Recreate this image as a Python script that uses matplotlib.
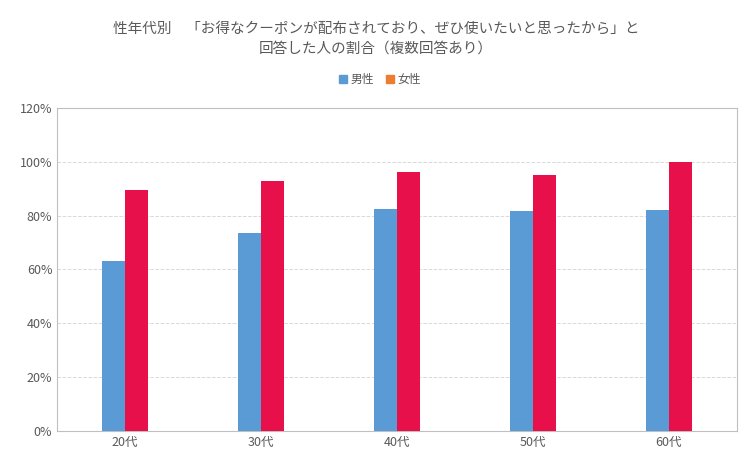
import matplotlib
matplotlib.use("Agg")
import matplotlib.pyplot as plt
from matplotlib.patches import Patch
import numpy as np

plt.rcParams["font.family"] = "Noto Sans CJK JP"

CATS = ["20代", "30代", "40代", "50代", "60代"]
MALE = [63, 73.5, 82.5, 81.5, 82]
FEMALE = [89.5, 93, 96, 95, 100]

fig = plt.figure(figsize=(7.52, 4.73), dpi=100)
ax = fig.add_axes([0.076, 0.089, 0.904, 0.683])

x = np.arange(len(CATS))
w = 0.17
ax.bar(x - w / 2, MALE, w, color="#5B9BD5", zorder=3)
ax.bar(x + w / 2, FEMALE, w, color="#E8104A", zorder=3)

ax.set_xlim(-0.5, len(CATS) - 0.5)
ax.set_ylim(0, 120)
ax.set_yticks(range(0, 121, 20))
ax.set_yticklabels([f"{v}%" for v in range(0, 121, 20)], fontsize=9, color="#595959")
ax.set_xticks(x)
ax.set_xticklabels(CATS, fontsize=9, color="#595959")
ax.tick_params(length=0)
ax.grid(axis="y", color="#d9d9d9", linestyle="--", linewidth=0.7, zorder=0)
for s in ax.spines.values():
    s.set_color("#bfbfbf")

fig.text(0.5, 0.955, "性年代別　「お得なクーポンが配布されており、ぜひ使いたいと思ったから」と\n回答した人の割合（複数回答あり）",
         ha="center", va="top", fontsize=10.5, color="#595959", linespacing=1.6)

handles = [Patch(color="#5B9BD5", label="男性"), Patch(color="#ED7D31", label="女性")]
fig.legend(handles=handles, loc="center", bbox_to_anchor=(0.505, 0.832), ncol=2,
           frameon=False, fontsize=8.5, handlelength=0.7, handleheight=0.7,
           columnspacing=1.0, handletextpad=0.3, labelcolor="#595959")

fig.savefig("out.png", dpi=100, facecolor="white")
